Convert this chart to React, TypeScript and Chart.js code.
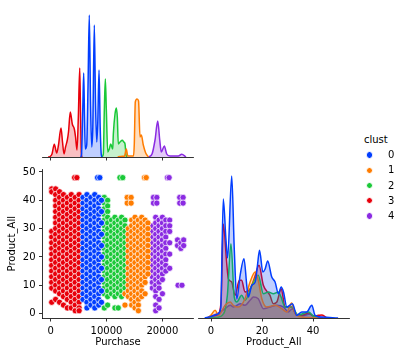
import React, { useEffect, useRef } from "react";
import { Chart, registerables } from "chart.js";

Chart.register(...registerables);

const CLUSTERS = ["0", "1", "2", "3", "4"];
const COLORS = ["#023eff", "#ff7c00", "#1ac938", "#e8000b", "#8b2be2"];
const FILLS = [
  "rgba(2,62,255,0.25)",
  "rgba(255,124,0,0.25)",
  "rgba(26,201,56,0.25)",
  "rgba(232,0,11,0.25)",
  "rgba(139,43,226,0.25)",
];

const PURCHASE_TICKS = [0, 10000, 20000];
const PRODUCT_TICKS = [0, 10, 20, 30, 40, 50];
const PRODUCT_DIAG_TICKS = [0, 20, 40];

// ---- Purchase density (top-left diagonal), arbitrary density units ----
const PUR_X_0 = [5350, 5530, 5760, 5920, 6065, 6210, 6460, 6690, 6920, 7140, 7350, 7550, 7820, 8030, 8250, 8440, 8660, 8870, 9070, 9200];
const PUR_Y_0 = [0, 3, 50, 84, 40, 8, 12, 70, 142, 55, 10, 30, 132, 55, 15, 35, 87, 30, 2, 0];
const PUR_X_1 = [12000, 12420, 13220, 13540, 13810, 14830, 14970, 15150, 15460, 15730, 15990, 16230, 16580, 17010, 17480];
const PUR_Y_1 = [0, 0.5, 1, 8, 1, 1, 13, 55, 58, 56, 20, 22, 12, 4, 0];
const PUR_X_2 = [9110, 9430, 9610, 9790, 9970, 10220, 10500, 10750, 11110, 11220, 11520, 11750, 11930, 12110, 12420, 12830, 13100, 13310, 13490, 13670];
const PUR_Y_2 = [0, 3, 47, 78, 47, 5, 8, 13, 8, 23, 43, 49, 40, 13, 15, 16.7, 15, 13, 2, 0];
const PUR_X_3 = [-450, -100, 250, 660, 1090, 1410, 1860, 2130, 2400, 2670, 2990, 3200, 3520, 3880, 4240, 4460, 4720, 4960, 5210, 5350, 5490, 5620];
const PUR_Y_3 = [0, 0.5, 3, 12.7, 4, 12, 29, 15, 3, 10, 17, 25, 45, 33, 28, 20, 7, 40, 89, 45, 5, 0];
const PUR_X_4 = [17500, 18140, 18680, 19160, 19520, 19800, 20340, 20770, 21360, 22850, 23450, 24220];
const PUR_Y_4 = [0, 3, 17, 36, 17, 5, 11, 3, 1, 1, 2.7, 0];

// ---- Product_All density (bottom-right diagonal) ----
const PRO_X_0 = [-2.5, 0, 2.6, 3.8, 4.8, 5.8, 6.5, 8.1, 9.1, 10.1, 11.4, 12.9, 14.0, 14.6, 16.0, 17.3, 18.2, 19.0, 20.3, 21.2, 22.2, 23.8, 25.1, 26.4, 27.5, 28.4, 29.7, 31.9, 33.6, 35.6, 37.5, 39.5, 40.8, 43.4, 49.8];
const PRO_Y_0 = [0, 1.5, 4, 10, 119, 80, 60, 142, 69, 19, 42.7, 59.3, 32.7, 21, 32.7, 36, 52.7, 67.7, 46, 49, 57, 41, 36, 24.3, 31, 26, 11, 14.3, 2.7, 6, 6, 12.7, 2.7, 1, 0];
const PRO_X_1 = [-1.5, 0, 1.6, 2.9, 4, 5.5, 7.5, 8.7, 10.7, 13.3, 15.3, 17.3, 18.5, 19.9, 21.8, 25.1, 27.7, 29.7, 31.6, 32.9, 35.6, 38, 42];
const PRO_Y_1 = [0, 3, 7.7, 2.7, 6, 12.7, 16, 12.7, 11, 19.3, 36, 46, 37.7, 19.3, 11, 12.7, 9.3, 6, 15, 5, 1, 0.5, 0];
const PRO_X_2 = [-1, 3, 4.5, 5.5, 6.4, 7.8, 9.1, 10.1, 12, 13.3, 16, 18.5, 20.5, 22.5, 24.4, 26.4, 27.3, 29, 31.6, 34.2, 38.2, 40.1, 42];
const PRO_Y_2 = [0, 1, 3, 8, 22.7, 74.3, 21, 16, 22.7, 17.7, 32.7, 42.7, 24.3, 26, 24.3, 26, 22, 11, 11, 3, 6, 2, 0];
const PRO_X_3 = [-1.5, 0.5, 2.5, 3.9, 4.8, 6.2, 6.8, 8.1, 9.4, 11.1, 12.0, 13.3, 15.3, 17.0, 18.8, 20.5, 23.1, 24.4, 25.8, 27.5, 29.0, 31.6, 33.6, 36.0, 38.2, 40.0, 42.1, 43.5, 45.4];
const PRO_Y_3 = [0, 2, 3, 15, 94, 52.7, 39, 36, 22.7, 37.7, 37.7, 26, 29, 40, 52.7, 32.7, 22.7, 14.3, 16, 29.3, 11, 11, 2.7, 3, 5, 2, 2.7, 3, 0];
const PRO_X_4 = [-1.5, 0, 2.2, 5.5, 7.5, 8.8, 11.4, 13.3, 15.3, 16.6, 18.5, 20.5, 23.1, 25.8, 28.4, 30.3, 31.9, 33.6, 35.6, 38.8, 40.8, 44];
const PRO_Y_4 = [0, 2, 4, 9.3, 12.7, 11, 14.3, 12.7, 17.7, 21, 19.3, 9.3, 11, 12.7, 11, 6, 9.3, 3, 2, 4, 1, 0];

// ---- Scatter: [Purchase, list of Product_All values] ----
const SCAT_0: [number, number[]][] = [
  [5800, [41, 39, 37, 35, 33, 31, 29, 27, 25, 23, 21, 19, 17, 15, 13, 11, 9, 7, 5]],
  [6500, [42, 40, 38, 36, 34, 32, 30, 28, 26, 24, 22, 20, 18, 16, 14, 12, 10, 8, 6, 4, 2]],
  [7200, [41, 39, 37, 35, 33, 31, 29, 27, 25, 23, 21, 19, 17, 15, 13, 11, 9, 7, 5, 3]],
  [7900, [42, 40, 38, 36, 34, 32, 30, 28, 26, 24, 22, 20, 18, 16, 14, 12, 10, 8, 6, 4, 2]],
  [8600, [41, 39, 37, 35, 33, 31, 29, 27, 25, 23, 21, 19, 17, 15, 13, 11, 9, 7, 5, 3]],
  [9100, [40, 36, 32, 28, 24, 20, 16, 12, 8, 4]],
  [8400, [48]],
  [8800, [48]],
];
const SCAT_1: [number, number[]][] = [
  [13300, [7, 3]],
  [13900, [30, 28, 26, 24, 22, 20, 18, 16, 14, 12, 10, 8, 6]],
  [14500, [33, 31, 29, 27, 25, 23, 21, 19, 17, 15, 13, 11, 9, 7, 5, 3]],
  [15100, [34, 32, 30, 28, 26, 24, 22, 20, 18, 16, 14, 12, 10, 8, 6, 4, 2]],
  [15700, [33, 31, 29, 27, 25, 23, 21, 19, 17, 15, 13, 11, 9, 7, 5, 3, 1]],
  [16300, [34, 32, 30, 28, 26, 24, 22, 20, 18, 16, 14, 12, 10, 8, 6]],
  [16900, [33, 31, 29, 27, 25, 23, 21, 19, 17, 15, 13, 11, 7]],
  [17400, [32, 30, 28, 26, 24, 22, 20, 18, 16, 14]],
  [13700, [41, 39]],
  [14400, [41, 39]],
  [16800, [48]],
  [17100, [48]],
];
const SCAT_2: [number, number[]][] = [
  [9600, [41, 39, 37, 35, 33, 31, 29, 27, 25, 23, 21, 19, 17, 15, 13, 11, 9, 7, 2]],
  [10200, [40, 38, 36, 34, 32, 30, 28, 26, 24, 22, 20, 18, 16, 14, 12, 10, 8, 6, 3]],
  [10900, [33, 31, 29, 27, 25, 23, 21, 19, 17, 15, 13, 11, 9, 7]],
  [11500, [34, 32, 30, 28, 26, 24, 22, 20, 18, 16, 14, 12, 10, 8, 6, 2]],
  [12100, [33, 31, 29, 27, 25, 23, 21, 19, 17, 15, 13, 11, 9, 7, 2]],
  [12700, [34, 32, 30, 28, 26, 24, 22, 20, 18, 16, 14, 12, 10, 8, 6]],
  [13300, [33, 31, 29, 27, 25, 23, 21, 19, 17, 15, 13, 11, 9]],
  [12400, [48]],
  [12900, [48]],
];
const SCAT_3: [number, number[]][] = [
  [200, [44, 43, 29, 27, 25, 23, 21, 19, 17, 15, 13, 11, 9, 4]],
  [900, [44, 42, 40, 38, 36, 34, 32, 30, 28, 26, 24, 22, 20, 18, 16, 14, 12, 10, 8, 5]],
  [1600, [43, 41, 39, 37, 35, 33, 31, 29, 27, 25, 23, 21, 19, 17, 15, 13, 11, 9, 7, 4]],
  [2300, [42, 40, 38, 36, 34, 32, 30, 28, 26, 24, 22, 20, 18, 16, 14, 12, 10, 8, 6, 3]],
  [3000, [41, 39, 37, 35, 33, 31, 29, 27, 25, 23, 21, 19, 17, 15, 13, 11, 9, 7, 5, 2]],
  [3700, [42, 40, 38, 36, 34, 32, 30, 28, 26, 24, 22, 20, 18, 16, 14, 12, 10, 8, 6, 4, 2]],
  [4400, [41, 39, 37, 35, 33, 31, 29, 27, 25, 23, 21, 19, 17, 15, 13, 11, 9, 7, 5, 3, 1]],
  [5100, [42, 40, 38, 36, 34, 32, 30, 28, 26, 24, 22, 20, 18, 16, 14, 12, 10, 8, 6, 4, 2, 1]],
  [4300, [48]],
  [4700, [48]],
];
const SCAT_4: [number, number[]][] = [
  [18200, [31, 29, 27, 25, 23, 21, 19, 17, 15, 13, 11, 9]],
  [18800, [34, 32, 30, 28, 26, 24, 22, 20, 18, 16, 14, 12, 10, 8, 6, 3, 1]],
  [19400, [33, 31, 29, 27, 25, 23, 21, 19, 17, 15, 13, 11, 9, 5, 2]],
  [20000, [34, 32, 30, 28, 26, 24, 22, 20, 18, 16, 14, 12, 7]],
  [20600, [33, 31, 29, 27, 25, 23, 21, 19, 17, 15]],
  [21300, [33, 31, 29, 25, 21, 16]],
  [18400, [41, 39]],
  [19000, [41, 39]],
  [23100, [41, 39]],
  [23700, [41, 39]],
  [22700, [26, 24]],
  [23300, [25, 23]],
  [23800, [26, 24]],
  [22800, [10]],
  [23500, [10]],
  [20900, [48]],
  [21200, [48]],
];

const PUR_XS = [PUR_X_0, PUR_X_1, PUR_X_2, PUR_X_3, PUR_X_4];
const PUR_YS = [PUR_Y_0, PUR_Y_1, PUR_Y_2, PUR_Y_3, PUR_Y_4];
const PRO_XS = [PRO_X_0, PRO_X_1, PRO_X_2, PRO_X_3, PRO_X_4];
const PRO_YS = [PRO_Y_0, PRO_Y_1, PRO_Y_2, PRO_Y_3, PRO_Y_4];
const SCATS = [SCAT_0, SCAT_1, SCAT_2, SCAT_3, SCAT_4];

const FONT = { family: "'DejaVu Sans', sans-serif", size: 10 };
const INK = "#000";

const xy = (xs: number[], ys: number[]) => xs.map((x, i) => ({ x, y: ys[i] }));
const pairs = (cols: [number, number[]][]) => {
  const out: { x: number; y: number }[] = [];
  for (const [x, ys] of cols) for (const y of ys) out.push({ x, y });
  return out;
};

function kdeDatasets(xs: number[][], ys: number[][]) {
  return CLUSTERS.map((c, i) => ({
    label: c,
    data: xy(xs[i], ys[i]),
    borderColor: COLORS[i],
    backgroundColor: FILLS[i],
    borderWidth: 1.5,
    pointRadius: 0,
    fill: "origin",
    cubicInterpolationMode: "monotone",
  }));
}

function axis(opts: {
  min: number;
  max: number;
  ticks: number[];
  labels: boolean;
  size: number;
  horizontal: boolean;
  title?: string;
}) {
  return {
    type: "linear",
    min: opts.min,
    max: opts.max,
    afterBuildTicks: (s: any) => {
      s.ticks = opts.ticks.map((v) => ({ value: v }));
    },
    afterFit: (s: any) => {
      if (opts.horizontal) s.height = opts.size;
      else s.width = opts.size;
    },
    border: { display: true, color: INK, width: 0.8 },
    grid: {
      display: true,
      drawOnChartArea: false,
      drawTicks: true,
      tickLength: 3.5,
      color: INK,
      lineWidth: 0.8,
    },
    ticks: {
      display: opts.labels,
      font: FONT,
      color: INK,
      padding: 3.5,
      maxRotation: 0,
      autoSkip: false,
      callback: (v: any) => String(v),
    },
    title: opts.title
      ? {
          display: true,
          text: opts.title,
          font: FONT,
          color: INK,
          padding: opts.horizontal ? { top: 0, bottom: 8.5 } : { top: 6.5, bottom: 0 },
        }
      : { display: false },
  };
}

const baseOptions = (padding: any, scales: any) => ({
  responsive: false,
  animation: false,
  events: [],
  layout: { padding },
  plugins: { legend: { display: false }, tooltip: { enabled: false } },
  scales,
});

function topLeftConfig(): any {
  return {
    type: "line",
    data: { datasets: kdeDatasets(PUR_XS, PUR_YS) },
    options: baseOptions(
      { left: 42.5, right: 6.5, top: 6, bottom: 0 },
      {
        x: axis({ min: -1450, max: 25560, ticks: PURCHASE_TICKS, labels: false, size: 13, horizontal: true }),
        y: { type: "linear", display: false, min: 0, max: 151 },
      }
    ),
  };
}

function scatterConfig(): any {
  return {
    type: "scatter",
    data: {
      datasets: CLUSTERS.map((c, i) => ({
        label: c,
        data: pairs(SCATS[i]),
        pointRadius: 3.1,
        pointBackgroundColor: COLORS[i],
        pointBorderColor: "#ffffff",
        pointBorderWidth: 0.7,
        backgroundColor: COLORS[i],
        borderColor: "#ffffff",
      })),
    },
    options: baseOptions(
      { left: 0, right: 6.5, top: 7, bottom: 0 },
      {
        x: axis({ min: -1450, max: 25560, ticks: PURCHASE_TICKS, labels: true, size: 39, horizontal: true, title: "Purchase" }),
        y: axis({ min: -1.56, max: 50.87, ticks: PRODUCT_TICKS, labels: true, size: 42.5, horizontal: false, title: "Product_All" }),
      }
    ),
  };
}

function bottomRightConfig(): any {
  return {
    type: "line",
    data: { datasets: kdeDatasets(PRO_XS, PRO_YS) },
    options: baseOptions(
      { left: 2.3, right: 6.7, top: 7, bottom: 0 },
      {
        x: axis({ min: -5, max: 54.2, ticks: PRODUCT_DIAG_TICKS, labels: true, size: 39, horizontal: true, title: "Product_All" }),
        y: { type: "linear", display: false, min: 0, max: 151 },
      }
    ),
  };
}

function ChartCanvas(props: { make: () => any; left: number; top: number; width: number; height: number }) {
  const ref = useRef<HTMLCanvasElement | null>(null);
  useEffect(() => {
    if (!ref.current) return;
    const chart = new Chart(ref.current, props.make());
    return () => chart.destroy();
  }, []);
  return (
    <canvas
      ref={ref}
      width={props.width}
      height={props.height}
      style={{ position: "absolute", left: props.left, top: props.top, width: props.width, height: props.height }}
    />
  );
}

export default function App() {
  const text: React.CSSProperties = {
    position: "absolute",
    fontFamily: "'DejaVu Sans', sans-serif",
    fontSize: 10,
    lineHeight: "12px",
    color: INK,
    whiteSpace: "nowrap",
  };
  return (
    <div style={{ position: "fixed", left: 0, top: 0, width: 402, height: 357, background: "#fff", overflow: "hidden" }}>
      <ChartCanvas make={topLeftConfig} left={0} top={0} width={200} height={170} />
      <ChartCanvas make={scatterConfig} left={0} top={160} width={200} height={197} />
      <ChartCanvas make={bottomRightConfig} left={196} top={160} width={160} height={197} />
      <div style={{ ...text, left: 364, top: 134 }}>clust</div>
      {CLUSTERS.map((c, i) => {
        const cy = 155 + i * 15.25;
        return (
          <React.Fragment key={c}>
            <div
              style={{
                position: "absolute",
                left: 365.6,
                top: cy - 3.7,
                width: 7.4,
                height: 7.4,
                boxSizing: "border-box",
                borderRadius: "50%",
                background: COLORS[i],
                border: "0.7px solid #fff",
              }}
            />
            <div style={{ ...text, left: 388, top: cy - 6 }}>{c}</div>
          </React.Fragment>
        );
      })}
    </div>
  );
}
